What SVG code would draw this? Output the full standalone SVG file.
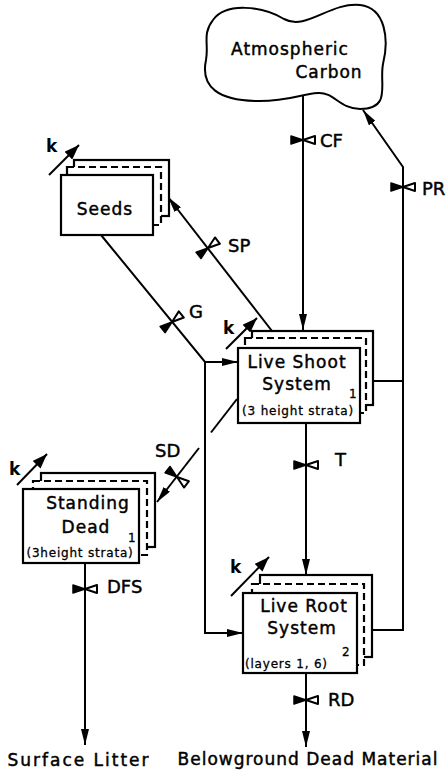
<svg xmlns="http://www.w3.org/2000/svg" width="446" height="770" viewBox="0 0 446 770">
<style>
.t{font-family:"DejaVu Sans","Liberation Sans",sans-serif;font-size:17px;fill:#000;stroke:#000;stroke-width:0.45px;letter-spacing:1px}
.s{font-family:"DejaVu Sans","Liberation Sans",sans-serif;font-size:12px;fill:#000;stroke:#000;stroke-width:0.3px;letter-spacing:0.8px}
.l{font-family:"DejaVu Sans","Liberation Sans",sans-serif;font-size:18px;fill:#000;stroke:#000;stroke-width:0.45px}
.k{font-family:"DejaVu Sans","Liberation Sans",sans-serif;font-size:17px;font-weight:bold;fill:#000}
.ln{fill:none;stroke:#000;stroke-width:2}
.bx{fill:#fff;stroke:#000;stroke-width:2.2}
.dz{fill:#fff;stroke:#000;stroke-width:2.2;stroke-dasharray:7 4}
</style>
<defs>
<marker id="ah" viewBox="0 0 16 8" refX="16" refY="4" markerWidth="16" markerHeight="8" orient="auto" markerUnits="userSpaceOnUse"><path d="M0,0 L16,4 L0,8 Z" fill="#000"/></marker>
<marker id="ak" viewBox="0 0 15 11" refX="15" refY="5.5" markerWidth="15" markerHeight="11" orient="auto" markerUnits="userSpaceOnUse"><path d="M0,0 L15,5.5 L0,11 Z" fill="#000"/></marker>
<g id="valve"><path d="M-12,-4 L0,0 L-12,4 Z" fill="#000" stroke="#000" stroke-width="1.5" stroke-linejoin="round"/><path d="M12,-4 L0,0 L12,4 Z" fill="#fff" stroke="#000" stroke-width="2" stroke-linejoin="round"/></g>
</defs>
<g id="connectors">
<path class="ln" d="M303,96 V330" marker-end="url(#ah)"/>
<path class="ln" d="M373,381 H403"/>
<path class="ln" d="M372,630 H403 V167 L363,110" marker-end="url(#ah)"/>
<path class="ln" d="M272,331 L168,197" marker-end="url(#ah)"/>
<path class="ln" d="M101,235 L205,362 H238" marker-end="url(#ah)"/>
<path class="ln" d="M205,362 V633 H243" marker-end="url(#ah)"/>
<path class="ln" d="M237,399 L211,432.5"/>
<path class="ln" d="M199,448 L157,502" marker-end="url(#ah)"/>
<path class="ln" d="M306,423 V575" marker-end="url(#ah)"/>
<path class="ln" d="M85,563 V745" marker-end="url(#ah)"/>
<path class="ln" d="M306,673 V747" marker-end="url(#ah)"/>
<use href="#valve" transform="translate(303,140)"/>
<use href="#valve" transform="translate(403,187)"/>
<use href="#valve" transform="translate(208,248) rotate(-38)"/>
<use href="#valve" transform="translate(172,322) rotate(-39)"/>
<use href="#valve" transform="translate(177,477) rotate(38)"/>
<use href="#valve" transform="translate(306,465)"/>
<use href="#valve" transform="translate(85,589)"/>
<use href="#valve" transform="translate(306,700)"/>
<text class="l" x="320" y="147">CF</text>
<text class="l" x="422" y="195">PR</text>
<text class="l" x="228" y="252">SP</text>
<text class="l" x="189" y="318">G</text>
<text class="l" x="155" y="457">SD</text>
<text class="l" x="335" y="466">T</text>
<text class="l" x="107" y="593">DFS</text>
<text class="l" x="328" y="706">RD</text>
</g>
<g id="atmospheric-carbon">
<path class="ln" d="M213,20 C226,2 262,6 284,19 C306,31 330,2 360,5 C386,8 389,40 383,64 C379,84 392,109 360,109 C340,109 334,92 318,93 C300,94 288,102 255,101 C220,100 200,88 206,60 C209,44 202,34 213,20 Z"/>
<text class="t" x="290" y="55" text-anchor="middle">Atmospheric</text>
<text class="t" x="329" y="78" text-anchor="middle">Carbon</text>
</g>
<g id="seeds">
<rect class="bx" x="74" y="160" width="95" height="56"/>
<rect class="dz" x="67" y="167" width="94" height="58"/>
<rect class="bx" x="61" y="175" width="92" height="60"/>
<text class="t" x="105" y="215" text-anchor="middle">Seeds</text>
<path class="ln" d="M49,175 L79,145" marker-end="url(#ak)"/>
<text class="k" x="46" y="152">k</text>
</g>
<g id="live-shoot">
<rect class="bx" x="252" y="331" width="121" height="74"/>
<rect class="dz" x="245" y="338" width="121" height="75"/>
<rect class="bx" x="238" y="348" width="122" height="75"/>
<text class="t" x="297" y="368" text-anchor="middle">Live Shoot</text>
<text class="t" x="297" y="390" text-anchor="middle">System</text>
<text class="s" x="298" y="415" text-anchor="middle">(3 height strata)</text>
<text class="s" x="349" y="398" font-size="10">1</text>
<path class="ln" d="M226,349 L257,318" marker-end="url(#ak)"/>
<text class="k" x="223" y="334">k</text>
</g>
<g id="standing-dead">
<rect class="bx" x="41" y="473" width="114" height="74"/>
<rect class="dz" x="33" y="481" width="114" height="74"/>
<rect class="bx" x="23" y="489" width="116" height="74"/>
<text class="t" x="88" y="509" text-anchor="middle">Standing</text>
<text class="t" x="86" y="533" text-anchor="middle">Dead</text>
<text class="s" x="80" y="557" text-anchor="middle">(3height strata)</text>
<text class="s" x="128" y="542" font-size="10">1</text>
<path class="ln" d="M17,485 L47,454" marker-end="url(#ak)"/>
<text class="k" x="9" y="475">k</text>
</g>
<g id="live-root">
<rect class="bx" x="260" y="575" width="112" height="82"/>
<rect class="dz" x="252" y="584" width="112" height="81"/>
<rect class="bx" x="243" y="593" width="114" height="80"/>
<text class="t" x="304" y="612" text-anchor="middle">Live Root</text>
<text class="t" x="302" y="634" text-anchor="middle">System</text>
<text class="s" x="245" y="668" font-size="11">(layers 1, 6)</text>
<text class="s" x="342" y="656" font-size="14">2</text>
<path class="ln" d="M231,596 L269,557" marker-end="url(#ak)"/>
<text class="k" x="230" y="573">k</text>
</g>
<g id="sinks">
<text class="t" x="79" y="766" text-anchor="middle" style="letter-spacing:2px">Surface Litter</text>
<text class="t" x="308" y="765" text-anchor="middle">Belowground Dead Material</text>
</g>
</svg>
